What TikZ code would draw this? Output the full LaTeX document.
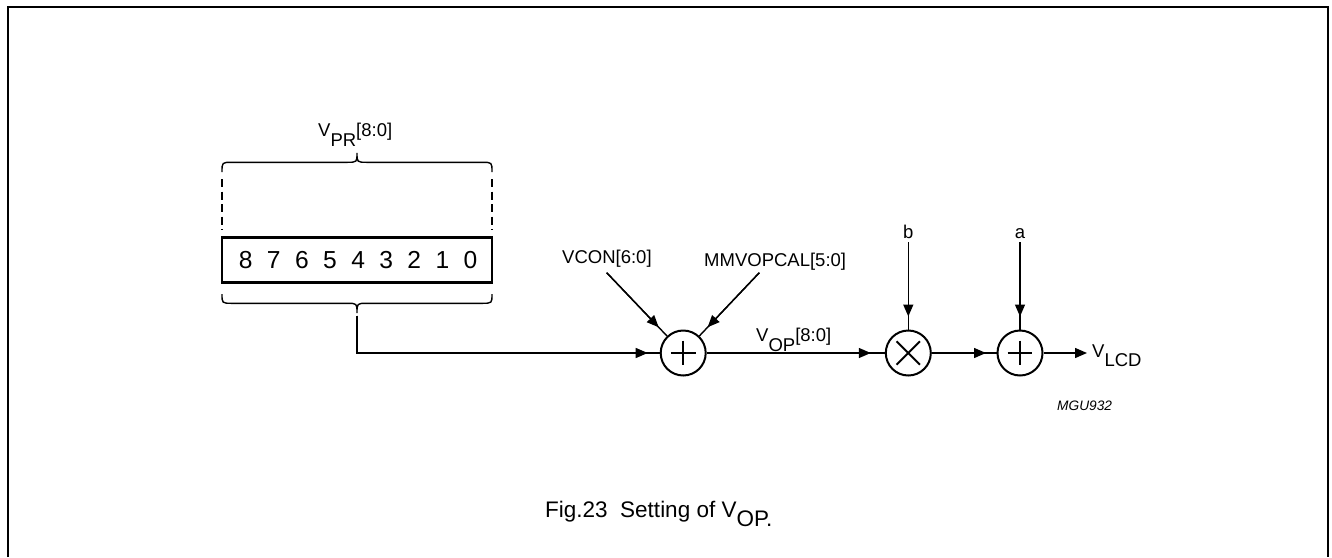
\documentclass[tikz,border=0pt]{standalone}
\usepackage{fontspec}
\setmainfont{Liberation Sans}
\usetikzlibrary{arrows.meta,calc}
\begin{document}
\begin{tikzpicture}[x=1pt,y=-1pt,
  conn/.style={line width=1.4pt},
  tipline/.style={-{Triangle[length=12pt,width=10pt]}, line width=1.4pt},
  op/.style={circle, draw, line width=2pt, minimum size=45pt, inner sep=0pt},
  lbl/.style={font=\fontsize{18.5}{20}\selectfont, inner sep=0pt, anchor=base west},
  digit/.style={font=\fontsize{24.6}{26}\selectfont, inner sep=0pt, anchor=base},
  sign/.style={line width=2pt}
]
\useasboundingbox (0,0) rectangle (1332,557);
% frame
\draw[line width=2pt] (7.5,557) -- (7.5,6.5) -- (1328,6.5) -- (1328,557);

% register box
\node[draw, line width=2.7pt, minimum width=270pt, minimum height=45.5pt, inner sep=0pt] (reg) at (357,260) {};
\foreach \d in {0,...,8} \node[digit] (d\d) at ({245.7+28.1*(8-\d)},268.3) {\d};

% braces
\draw[conn] (222,172) .. controls (222,162.3) .. (232,162.3) -- (347,162.3) .. controls (357,162.3) .. (357,153) .. controls (357,162.3) .. (367,162.3) -- (482,162.3) .. controls (492,162.3) .. (492,172);
\draw[conn] (222,294) .. controls (222,303.3) .. (232,303.3) -- (347,303.3) .. controls (357,303.3) .. (357,313) .. controls (357,303.3) .. (367,303.3) -- (482,303.3) .. controls (492,303.3) .. (492,294);
\draw[conn, dash pattern=on 8pt off 4.5pt] (222,179) -- (222,229.5);
\draw[conn, dash pattern=on 8pt off 4.5pt] (492,179) -- (492,229.5);

% operators
\node[op] (s1) at (683.2,353) {};
\node[op] (s2) at (908.3,353) {};
\node[op] (s3) at (1020,353) {};
\draw[sign] ($(s1)+(-12.3,0)$) -- ($(s1)+(12.3,0)$);
\draw[sign] ($(s1)+(0,-12.3)$) -- ($(s1)+(0,12.3)$);
\draw[sign] ($(s3)+(-12.3,0)$) -- ($(s3)+(12.3,0)$);
\draw[sign] ($(s3)+(0,-12.3)$) -- ($(s3)+(0,12.3)$);
\draw[sign] ($(s2)+(-11.7,-11.7)$) -- ($(s2)+(11.7,11.7)$);
\draw[sign] ($(s2)+(-11.7,11.7)$) -- ($(s2)+(11.7,-11.7)$);

% coordinates for free ends
\coordinate (btip) at (357,315.5);
\coordinate (vcin) at (606.7,272.7);
\coordinate (mmin) at (759.3,272.7);
\coordinate (bin) at (908.3,242);
\coordinate (ain) at (1020,242);
\coordinate (out) at (1087,353);

% connectors
\draw[conn] (btip) |- (s1);
\draw[tipline, shorten >=12pt] (btip) |- (s1);
\draw[conn] (vcin) -- (s1);
\draw[tipline, shorten >=12pt] (vcin) -- (s1);
\draw[conn] (mmin) -- (s1);
\draw[tipline, shorten >=12pt] (mmin) -- (s1);
\draw[conn] (s1) -- (s2);
\draw[tipline, shorten >=14pt] (s1) -- (s2);
\draw[conn] (bin) -- (s2);
\draw[tipline, shorten >=13pt] (bin) -- (s2);
\draw[conn] (s2) -- (s3);
\draw[tipline, shorten >=10.5pt] (s2) -- (s3);
\draw[conn] (ain) -- (s3);
\draw[tipline, shorten >=13pt] (ain) -- (s3);
\draw[tipline] (s3) -- (out);

% labels
\node[lbl] (vpr) at (318,136) {V\raisebox{-10pt}{PR}[8:0]};
\node[lbl] (vcon) at (562,263) {VCON[6:0]};
\node[lbl] (mm) at (704,266) {MMVOPCAL[5:0]};
\node[lbl] (vop) at (756,341) {V\raisebox{-10pt}{OP}[8:0]};
\node[lbl, anchor=base] (blbl) at (908.3,238) {b};
\node[lbl, anchor=base] (albl) at (1020,238) {a};
\node[lbl] (vlcd) at (1092,357) {V\raisebox{-9pt}{LCD}};
\node[font=\fontsize{13.7}{15}\selectfont\itshape, inner sep=0pt, anchor=base west] (mgu) at (1057,410) {MGU932};
\node[font=\fontsize{22.5}{24}\selectfont, inner sep=0pt, anchor=base west] (cap) at (545,517) {Fig.23\ \ Setting of V\raisebox{-9pt}{OP.}};
\end{tikzpicture}
\end{document}
